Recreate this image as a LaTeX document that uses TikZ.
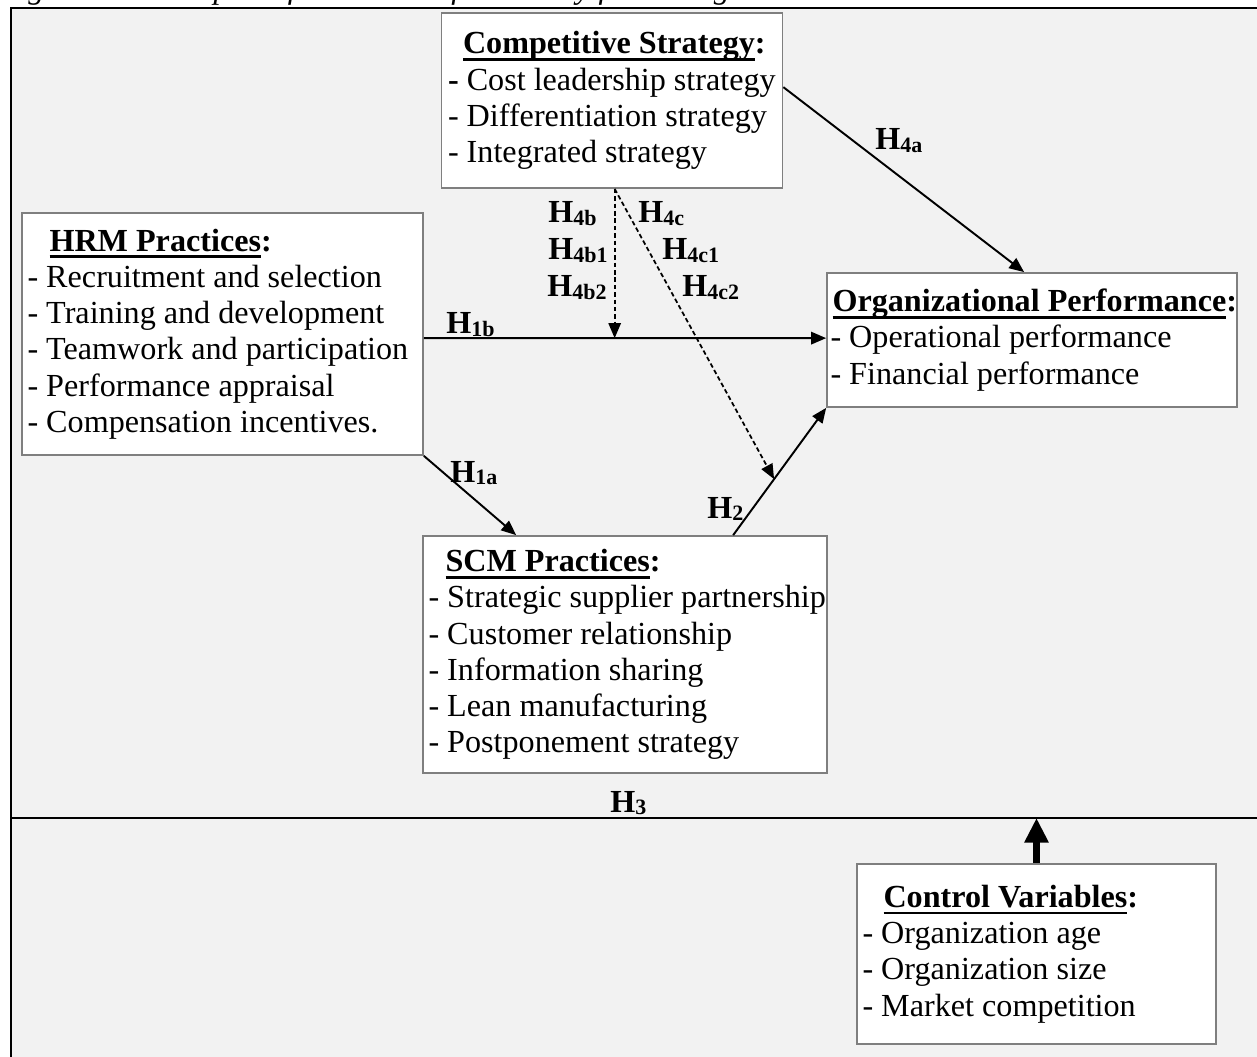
\documentclass[tikz,border=0pt]{standalone}
\usepackage{fontspec}
\setmainfont{Liberation Serif}
\usetikzlibrary{arrows.meta,calc}
\definecolor{panel}{HTML}{F2F2F2}
\definecolor{edge}{HTML}{7F7F7F}
\newlength{\pxu}
\setlength{\pxu}{0.02cm}
\newsavebox{\headbox}
\newcommand{\ulword}[1]{\sbox{\headbox}{#1}\rlap{\rule[-4pt]{\wd\headbox}{1.6pt}}\usebox{\headbox}}
\newcommand{\hyp}[1]{H\raisebox{-1.5pt}{\fontsize{12.5pt}{13pt}\selectfont #1}}
\newcommand{\heading}[1]{\textbf{\ulword{#1}:}}

\begin{document}
\begin{tikzpicture}[x=0.02cm, y=-0.02cm,
  every node/.style={font=\fontsize{18.3pt}{20.6pt}\selectfont},
  panelbox/.style={draw=edge, line width=1pt, fill=white, inner sep=0pt},
  itemlist/.style={align=left, inner sep=0pt, anchor=west},
  hlabel/.style={inner sep=0pt, anchor=base west, font=\fontsize{18.3pt}{20.6pt}\selectfont\bfseries},
  link/.style={line width=1.1pt, -{Triangle[length=8.5pt,width=7pt]}},
  modlink/.style={line width=1pt, dash pattern=on 2.6pt off 1.6pt, -{Triangle[length=8.5pt,width=7pt]}},
  ctrllink/.style={line width=3.9pt, -{Triangle[length=14pt,width=13pt]}},
  frameline/.style={line width=1.1pt}]

\useasboundingbox (0,0) rectangle (1257,1057);

% shaded panel with its frame and the divider above the control block
\fill[panel] (11,8) rectangle (1257,1057);
\draw[frameline] (11,1057) -- (11,8) -- (1257,8);
\coordinate (divL) at (11,818);
\coordinate (divR) at (1257,818);
\draw[frameline] (divL) -- (divR);

% figure caption
\node[anchor=base east, inner sep=0pt, font=\fontsize{18.3pt}{20.6pt}\selectfont\itshape] (caption) at (858,-1)
  {Figure 3: Conceptual framework of this study for testing variables};

% construct boxes
\node[panelbox, minimum width=6.82cm, minimum height=3.5cm] (comp) at (612,100.5) {};
\node[panelbox, minimum width=8.02cm, minimum height=4.84cm] (hrm) at (222.5,334) {};
\node[panelbox, minimum width=8.2cm, minimum height=2.68cm] (perf) at (1032,340) {};
\node[panelbox, minimum width=8.08cm, minimum height=4.74cm] (scm) at (625,654.5) {};
\node[panelbox, minimum width=7.18cm, minimum height=3.6cm] (ctrl) at (1036.5,954) {};

% box contents
\node[itemlist] (comp-items) at ($(comp.west)+(7,0)$)
  {\hspace*{15\pxu}\heading{Competitive Strategy}\\
   \textbf{-} Cost leadership strategy\\
   - Differentiation strategy\\
   - Integrated strategy};
\node[itemlist] (hrm-items) at ($(hrm.west)+(6,0)$)
  {\hspace*{22\pxu}\heading{HRM Practices}\\
   - Recruitment and selection\\
   - Training and development\\
   - Teamwork and participation\\
   - Performance appraisal\\
   - Compensation incentives.};
\node[itemlist] (perf-items) at ($(perf.west)+(4,0)$)
  {\hspace*{2\pxu}\heading{Organizational Performance}\\
   - Operational performance\\
   - Financial performance};
\node[itemlist] (scm-items) at ($(scm.west)+(6,0)$)
  {\hspace*{17\pxu}\heading{SCM Practices}\\
   - Strategic supplier partnership\\
   - Customer relationship\\
   - Information sharing\\
   - Lean manufacturing\\
   - Postponement strategy};
\node[itemlist] (ctrl-items) at ($(ctrl.west)+(6,0)$)
  {\hspace*{21\pxu}\heading{Control Variables}\\
   - Organization age\\
   - Organization size\\
   - Market competition};

% direct paths
\coordinate (h1bS) at ($(hrm.north east)+(0,126)$);
\coordinate (h1bE) at ($(perf.north west)+(0,66)$);
\coordinate (h2S) at ($(scm.north west)+(311,0)$);
\draw[link] (h1bS) -- (h1bE);
\draw[link] (hrm.south east) -- ($(scm.north west)+(94,0)$);
\draw[link] (h2S) -- (perf.south west);
\draw[link] ($(comp.north east)+(0,75)$) -- ($(perf.north west)+(198,0)$);

% moderating paths
\coordinate (modS) at ($(comp.south west)+(174,0)$);
\draw[modlink] (modS) -- (modS |- h1bS);
\draw[modlink] (modS) -- ($(h2S)!0.44!(perf.south west)$);

% control variables
\draw[ctrllink] (ctrl.north) -- (ctrl.north |- divL);

% hypothesis labels
\node[hlabel] (l4a) at (875,150) {\hyp{4a}};
\node[hlabel] (l4b) at (548,223) {\hyp{4b}};
\node[hlabel] (l4b1) at (548,260) {\hyp{4b1}};
\node[hlabel] (l4b2) at (547,297) {\hyp{4b2}};
\node[hlabel] (l4c) at (638,223) {\hyp{4c}};
\node[hlabel] (l4c1) at (662,260) {\hyp{4c1}};
\node[hlabel] (l4c2) at (682,297) {\hyp{4c2}};
\node[hlabel] (l1b) at (446,334) {\hyp{1b}};
\node[hlabel] (l1a) at (450,482) {\hyp{1a}};
\node[hlabel] (l2) at (707,518) {\hyp{2}};
\node[hlabel] (l3) at (610,812) {\hyp{3}};

\end{tikzpicture}
\end{document}
